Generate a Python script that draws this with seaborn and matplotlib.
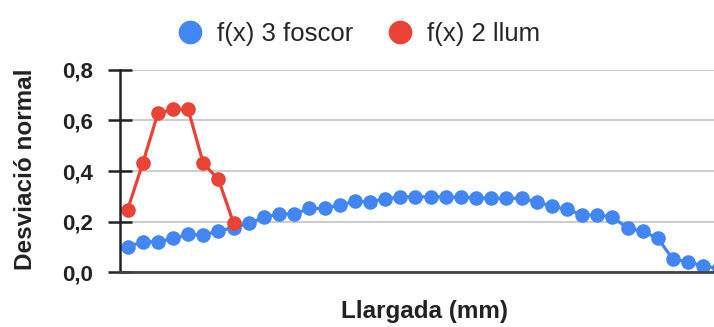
import pandas as pd
import seaborn as sns
import matplotlib
matplotlib.use('Agg')
import matplotlib.pyplot as plt
from matplotlib.lines import Line2D

# === DATI ===
blue_name = 'f(x) 3 foscor'
red_name = 'f(x) 2 llum'

blue_vals = [0.10, 0.12, 0.12, 0.133, 0.149, 0.147, 0.162, 0.176, 0.193, 0.217,
             0.23, 0.23, 0.252, 0.252, 0.265, 0.28, 0.279, 0.289, 0.298, 0.298,
             0.298, 0.298, 0.296, 0.295, 0.292, 0.292, 0.292, 0.278, 0.261, 0.248,
             0.226, 0.226, 0.219, 0.173, 0.162, 0.133, 0.05, 0.041, 0.024, 0.015]
red_vals = [0.246, 0.43, 0.628, 0.644, 0.644, 0.43, 0.367, 0.193]

y_ticks = [0.0, 0.2, 0.4, 0.6, 0.8]
y_tick_labels = ['0,0', '0,2', '0,4', '0,6', '0,8']

blue_col = '#4285F4'
red_col = '#EA4335'

# tabella lunga per seaborn
df_blue = pd.DataFrame({'x': range(len(blue_vals)), 'y': blue_vals, 'serie': blue_name})
df_red = pd.DataFrame({'x': range(len(red_vals)), 'y': red_vals, 'serie': red_name})
df = pd.concat([df_blue, df_red], ignore_index=True)

# === GRAFICO ===
sns.set_style('white')
plt.rcParams['font.family'] = ['Liberation Sans', 'DejaVu Sans']

fig = plt.figure(figsize=(7.14, 3.27), dpi=100)
ax = fig.add_axes([0.168, 0.168, 0.832, 0.618])

sns.lineplot(data=df, x='x', y='y', hue='serie', palette={blue_name: blue_col, red_name: red_col},
             marker='o', markersize=10.5, markeredgewidth=0, linewidth=2.3, legend=False, ax=ax)

ax.set_xlim(-0.5, 38.7)
ax.set_ylim(0, 0.8)
ax.set_yticks(y_ticks)
ax.set_yticklabels(y_tick_labels, fontsize=16, fontweight='bold', color='#222222')
ax.set_xticks([])
ax.yaxis.grid(True, color='#cccccc', linewidth=1.4)
ax.set_axisbelow(True)
ax.tick_params(axis='y', left=True, direction='inout', length=17, width=1.8, color='#222222', pad=11)

for s in ['top', 'right']:
  ax.spines[s].set_visible(False)
ax.spines['left'].set_color('#222222')
ax.spines['left'].set_linewidth(1.8)
ax.spines['bottom'].set_color('#444444')
ax.spines['bottom'].set_linewidth(2)

ax.set_ylabel('Desviació normal', fontsize=17.5, fontweight='bold', color='#222222')
ax.yaxis.set_label_coords(-0.14, 0.51)
ax.set_xlabel('Llargada (mm)', fontsize=17.5, fontweight='bold', color='#222222')
ax.xaxis.set_label_coords(0.513, -0.14)

# legenda in alto, solo i cerchi
handles = [Line2D([], [], marker='o', linestyle='', color=blue_col, markersize=16),
           Line2D([], [], marker='o', linestyle='', color=red_col, markersize=16)]
fig.legend(handles, [blue_name, red_name], loc='center', bbox_to_anchor=(0.502, 0.895), ncol=2,
           frameon=False, fontsize=18.5, handlelength=1.0, handletextpad=0.55, columnspacing=1.3)

fig.savefig('out.png', dpi=100)
